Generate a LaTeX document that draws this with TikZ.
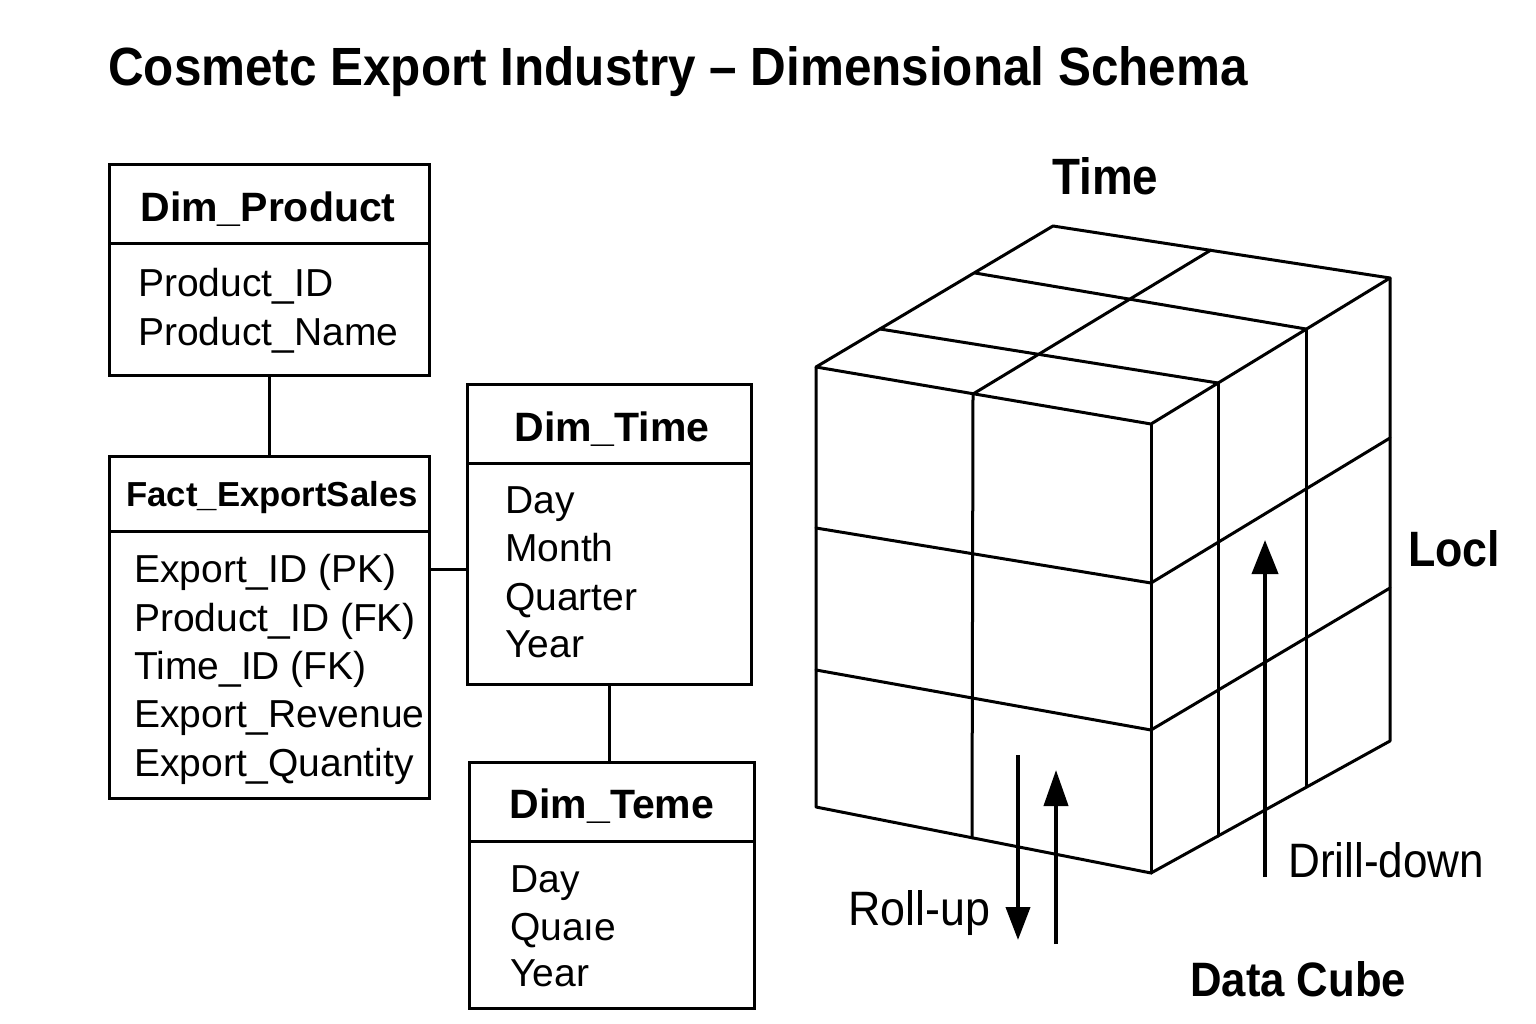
\documentclass[tikz,border=0pt]{standalone}
\usepackage{fontspec}
\setmainfont{Liberation Sans}
\usetikzlibrary{arrows.meta,calc}
\begin{document}
\begin{tikzpicture}[x=1pt,y=-1pt,
  tbl/.style={draw,line width=3pt,inner sep=0pt,minimum width=#1},
  ttl/.style={anchor=base,font=\fontsize{41}{41}\selectfont\bfseries,inner sep=0pt},
  fld/.style={anchor=base west,font=\fontsize{39}{39}\selectfont,inner sep=0pt},
  lnk/.style={line width=3pt},
  cube/.style={line width=3pt,line join=round,line cap=round},
  opArrow/.style={line width=4pt,-{Triangle[width=26pt,length=34pt]}},
  lbl/.style={inner sep=0pt}
]
\path[use as bounding box] (0,0) rectangle (1536,1024);

% title
\node[lbl,anchor=base west] (title) at (108,86) {\resizebox{1139pt}{39pt}{\bfseries Cosmetc Export Industry – Dimensional Schema}};

% Dim_Product
\node[tbl=320pt,minimum height=211pt,anchor=north west] (prod) at (108,163) {};
\draw[lnk] (108,244) -- (428,244);
\node[ttl] (prodT) at (268,222) {Dim\_Product};
\node[fld] (p1) at (138,297) {Product\_ID};
\node[fld] (p2) at (138,345) {Product\_Name};

% Fact_ExportSales
\node[tbl=320pt,minimum height=342pt,anchor=north west] (fact) at (108,455) {};
\draw[lnk] (108,531) -- (428,531);
\node[ttl,font=\fontsize{34.7}{35}\selectfont\bfseries] (factT) at (272,506) {Fact\_ExportSales};
\node[fld] (f1) at (134,582) {Export\_ID (PK)};
\node[fld] (f2) at (134,631) {Product\_ID (FK)};
\node[fld] (f3) at (134,679) {Time\_ID (FK)};
\node[fld] (f4) at (134,727) {Export\_Revenue};
\node[fld] (f5) at (134,776) {Export\_Quantity};

% Dim_Time
\node[tbl=284pt,minimum height=300pt,anchor=north west] (time) at (466,383) {};
\draw[lnk] (466,463) -- (750,463);
\node[ttl] (timeT) at (612,441) {Dim\_Time};
\node[fld] (t1) at (505,513) {Day};
\node[fld] (t2) at (505,561) {Month};
\node[fld] (t3) at (505,610) {Quarter};
\node[fld] (t4) at (505,657) {Year};

% Dim_Teme
\node[tbl=285pt,minimum height=246pt,anchor=north west] (teme) at (468,761) {};
\draw[lnk] (468,841) -- (753,841);
\node[ttl] (temeT) at (612,818) {Dim\_Teme};
\node[fld] (e1) at (510,892) {Day};
\node[fld] (e2) at (510,940) {Quaıe};
\node[fld] (e3) at (510,986) {Year};

% connectors
\draw[lnk] (prod.south) -- (fact.north);
\coordinate (fa) at ($(fact.north east)!0.333!(fact.south east)$);
\draw[lnk] (fa) -- (fa -| time.west);
\coordinate (tb) at ($(time.south west)!0.5!(time.south east)$);
\draw[lnk] (tb) -- (tb |- teme.north);

% cube
\coordinate (B) at (1053,226);
\coordinate (R) at (1390,278);
\coordinate (L) at (816,367);
\coordinate (F) at (1151,424);
\coordinate (Lb) at (816,807);
\coordinate (Fb) at (1151,873);
\coordinate (Rb) at (1390,741);
\draw[cube] (L) -- (B) -- (R) -- (F) -- cycle;
\draw[cube] (L) -- (Lb) -- (Fb) -- (Rb) -- (R);
\draw[cube] (F) -- (Fb);
% top face grid
\draw[cube] (975,273) -- (1306,329);
\draw[cube] (880,329) -- (1218,383);
\draw[cube] (1211,250) -- (973,394);
% front face grid
\draw[cube] (973,394) -- (972,838);
\draw[cube] (816,528) -- (1151,583);
\draw[cube] (816,670) -- (1151,730);
% right face grid
\draw[cube] (1218,383) -- (1218,836);
\draw[cube] (1306,329) -- (1306,787);
\draw[cube] (1151,583) -- (1390,438);
\draw[cube] (1151,730) -- (1390,588);

% operation arrows
\coordinate (dd0) at (1265,877);
\coordinate (dd1) at (1265,540);
\draw[opArrow] (dd0) -- (dd1);
\coordinate (ru0) at (1018,755);
\coordinate (ru1) at (1018,940);
\draw[opArrow,-{Triangle[width=24pt,length=33pt]}] (ru0) -- (ru1);
\coordinate (rv0) at (1056,944);
\coordinate (rv1) at (1056,770);
\draw[opArrow,-{Triangle[width=24pt,length=36pt]}] (rv0) -- (rv1);

% labels
\node[lbl,anchor=base west] (timeL) at (1052,195) {\resizebox{106pt}{37pt}{\bfseries Time}};
\node[lbl,anchor=base west] (loclL) at (1408,566) {\resizebox{92pt}{36pt}{\bfseries Locl}};
\node[lbl,anchor=base west] (ddL) at (1288,877) {\resizebox{196pt}{35pt}{Drill-down}};
\node[lbl,anchor=base west] (ruL) at (848,925) {\resizebox{142pt}{35pt}{Roll-up}};
\node[lbl,anchor=base west] (dcL) at (1190,996) {\resizebox{216pt}{35pt}{\bfseries Data Cube}};
\end{tikzpicture}
\end{document}
